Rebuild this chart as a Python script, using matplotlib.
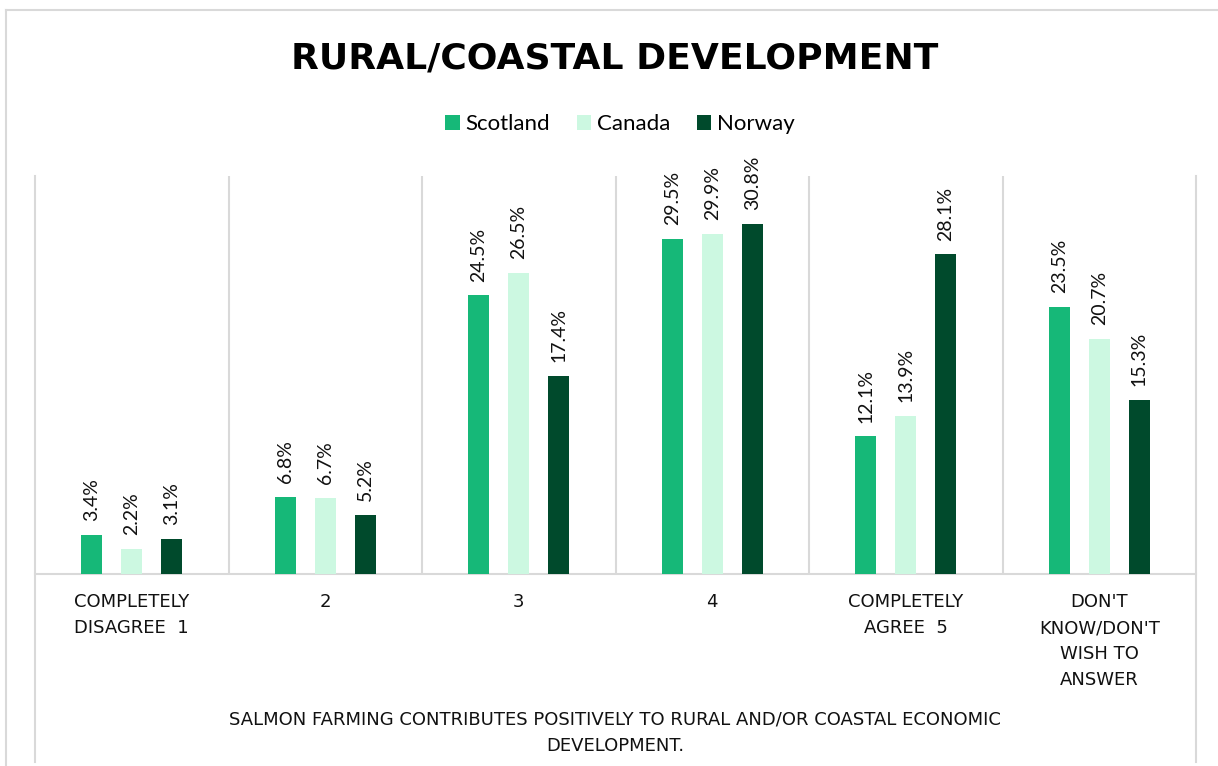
import numpy as np
import matplotlib
matplotlib.use("Agg")
import matplotlib.pyplot as plt
from matplotlib.lines import Line2D
from matplotlib.patches import Patch

# Survey responses (% of respondents)
categories = ["COMPLETELY\nDISAGREE  1", "2", "3", "4",
              "COMPLETELY\nAGREE  5", "DON'T\nKNOW/DON'T\nWISH TO\nANSWER"]
series_names = ["Scotland", "Canada", "Norway"]
scotland = [3.4, 6.8, 24.5, 29.5, 12.1, 23.5]
canada = [2.2, 6.7, 26.5, 29.9, 13.9, 20.7]
norway = [3.1, 5.2, 17.4, 30.8, 28.1, 15.3]
colors = ["#16B878", "#CCF8E1", "#004A2C"]

title = "RURAL/COASTAL DEVELOPMENT"
axis_title = ("SALMON FARMING CONTRIBUTES POSITIVELY TO RURAL AND/OR COASTAL ECONOMIC\n"
              "DEVELOPMENT.")

W, H = 1218, 766
fig = plt.figure(figsize=(W / 100, H / 100), dpi=100)
fig.patch.set_facecolor("white")

grid_c = "#D9D9D9"
x0, x1 = 35 / W, 1196 / W
y_bot, y_top = 1 - 574 / H, 1 - 176 / H
ax = fig.add_axes([x0, y_bot, x1 - x0, y_top - y_bot])

x = np.arange(len(categories))
offset = 0.207
width = 0.109
all_series = [scotland, canada, norway]
for k, (vals, name, c) in enumerate(zip(all_series, series_names, colors)):
    bars = ax.bar(x + (k - 1) * offset, vals, width=width, color=c, label=name,
                  linewidth=0, zorder=3)
    ax.bar_label(bars, labels=[f"{v:.1f}%" for v in vals], rotation=90,
                 padding=10, fontsize=14, family="Lato", color="#111111")

ax.set_xlim(-0.5, len(categories) - 0.5)
ax.set_ylim(0, 35)
ax.set_yticks([])
ax.set_xticks(x)
ax.set_xticklabels(categories, fontsize=13, family="DejaVu Sans",
                   color="#111111", linespacing=1.55, va="top")
ax.tick_params(axis="x", which="major", length=0, pad=14)
ax.set_xticks(np.arange(0.5, len(categories) - 0.5, 1), minor=True)
ax.tick_params(axis="x", which="minor", length=0)
ax.grid(which="minor", axis="x", color=grid_c, linewidth=1.5, zorder=0)

for s in ["top", "left", "right"]:
    ax.spines[s].set_visible(False)
ax.spines["bottom"].set_color(grid_c)
ax.spines["bottom"].set_linewidth(1.5)

# outer vertical rules extending through the label area
for xx in (x0, x1):
    fig.add_artist(Line2D([xx, xx], [1 - 762 / H, y_top], transform=fig.transFigure,
                          color=grid_c, linewidth=1.5))

# chart border (left and top)
bx, by = 6 / W, 1 - 9.5 / H
fig.add_artist(Line2D([bx, bx], [0, by], transform=fig.transFigure,
                      color=grid_c, linewidth=1.5))
fig.add_artist(Line2D([bx, 1], [by, by], transform=fig.transFigure,
                      color=grid_c, linewidth=1.5))

fig.text(615 / W, 1 - 58 / H, title, ha="center", va="center", fontsize=26,
         fontweight="bold", family="DejaVu Sans", color="black")

fig.text(615 / W, 1 - 711 / H, axis_title, ha="center", va="top", fontsize=13,
         family="DejaVu Sans", color="#111111", linespacing=1.6)

handles = [Patch(facecolor=c, edgecolor="none") for c in colors]
fig.legend(handles, series_names, loc="center", bbox_to_anchor=(620 / W, 1 - 124 / H),
           ncol=3, frameon=False, prop={"family": "Lato", "size": 16},
           handlelength=0.65, handleheight=0.65, handletextpad=0.25,
           columnspacing=1.2)

fig.savefig("out.png", dpi=100, facecolor="white")
